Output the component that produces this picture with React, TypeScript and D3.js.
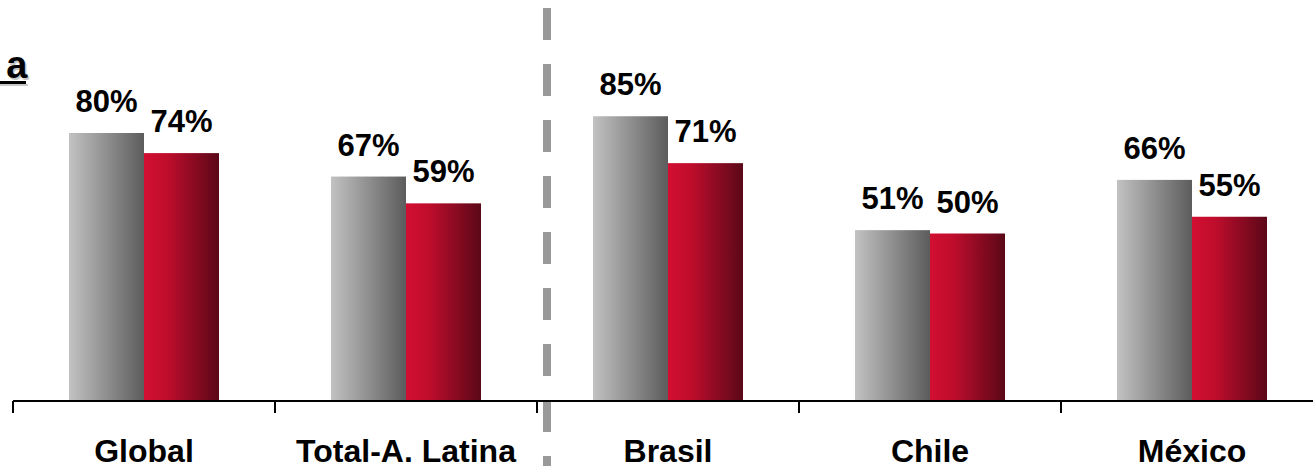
import React from "react";
import * as d3 from "d3";

const categories = ["Global", "Total-A. Latina", "Brasil", "Chile", "México"];
const seriesA = [80, 67, 85, 51, 66];
const seriesB = [74, 59, 71, 50, 55];
const seriesKeys = ["a", "b"];
const titleText = "a";

const W = 1313;
const H = 466;

export default function App() {
  const axisY = 401;
  const x = d3
    .scaleBand<string>()
    .domain(categories)
    .range([13, 13 + 262 * categories.length])
    .paddingInner(0.4275)
    .paddingOuter(0.4275 / 2);
  const sub = d3.scaleBand<string>().domain(seriesKeys).range([0, x.bandwidth()]);
  const y = d3.scaleLinear().domain([0, 100]).range([axisY, axisY - 335]);
  const step = x.step();
  const font = "'Liberation Sans', Arial, Helvetica, sans-serif";

  const boundaries = d3.range(categories.length + 1).map((i) => x.range()[0] + i * step);
  const dividerX = boundaries[2] + 10;

  const series = [
    { key: "a", values: seriesA, fill: "url(#gGray)" },
    { key: "b", values: seriesB, fill: "url(#gRed)" },
  ];

  return (
    <svg
      width={W}
      height={H}
      style={{ position: "absolute", left: 0, top: 0, background: "#fff" }}
      fontFamily={font}
    >
      <defs>
        <linearGradient id="gGray" x1="0" x2="1" y1="0" y2="0">
          <stop offset="0" stopColor="#c2c2c2" />
          <stop offset="1" stopColor="#5c5c5c" />
        </linearGradient>
        <linearGradient id="gRed" x1="0" x2="1" y1="0" y2="0">
          <stop offset="0" stopColor="#d20f32" />
          <stop offset="0.3" stopColor="#c00d2c" />
          <stop offset="1" stopColor="#5a0818" />
        </linearGradient>
      </defs>

      {/* partial title */}
      <g>
        <text x={29} y={80} textAnchor="end" fontSize={38} fontWeight="bold" fill="#c8c8c8">
          {titleText}
        </text>
        <rect x={0} y={84} width={28} height={2} fill="#c8c8c8" />
        <text x={27.5} y={78} textAnchor="end" fontSize={38} fontWeight="bold" fill="#000">
          {titleText}
        </text>
        <rect x={0} y={81} width={26} height={3} fill="#000" />
      </g>

      {/* divider */}
      <line
        x1={dividerX}
        x2={dividerX}
        y1={8}
        y2={H}
        stroke="#999"
        strokeWidth={8}
        strokeDasharray="32 24"
      />

      {/* bars */}
      {categories.map((c, i) => (
        <g key={c}>
          {series.map((s) => {
            const bx = (x(c) as number) + (sub(s.key) as number);
            const bw = sub.bandwidth();
            const top = y(s.values[i]);
            return (
              <g key={s.key}>
                <rect x={bx} y={top} width={bw} height={axisY - top} fill={s.fill} />
                <text
                  x={bx + bw / 2}
                  y={top - 21}
                  textAnchor="middle"
                  fontSize={31}
                  fontWeight="bold"
                  fill="#000"
                >
                  {s.values[i]}%
                </text>
              </g>
            );
          })}
        </g>
      ))}

      {/* axis */}
      <line x1={boundaries[0]} x2={W} y1={axisY} y2={axisY} stroke="#000" strokeWidth={2} />
      {boundaries.map((b, i) => (
        <line key={i} x1={b} x2={b} y1={axisY} y2={axisY + 12} stroke="#000" strokeWidth={2} />
      ))}
      {categories.map((c) => (
        <text
          key={c}
          x={(x(c) as number) + x.bandwidth() / 2}
          y={462}
          textAnchor="middle"
          fontSize={32}
          fontWeight="bold"
          fill="#000"
        >
          {c}
        </text>
      ))}
    </svg>
  );
}
